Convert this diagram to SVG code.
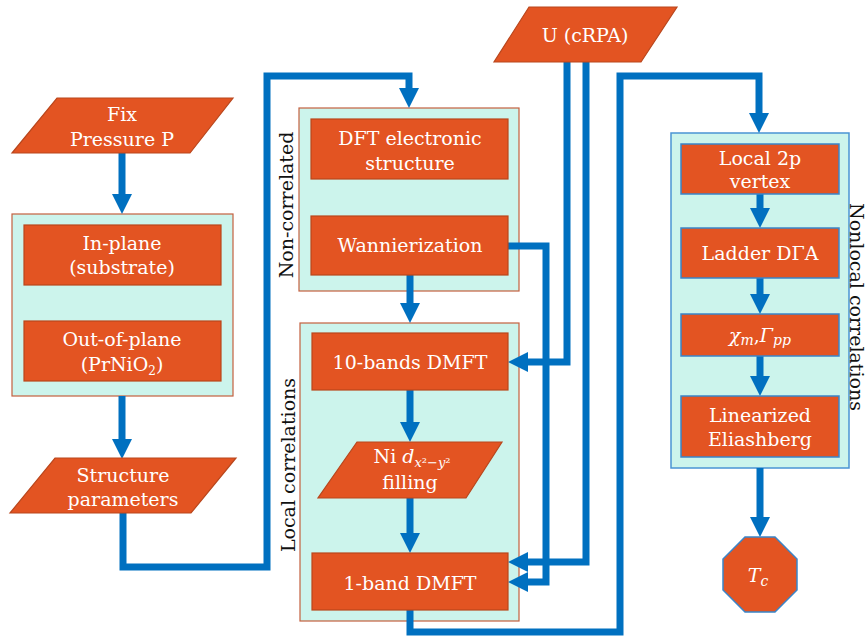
<svg xmlns="http://www.w3.org/2000/svg" width="867" height="637" viewBox="0 0 867 637">
  <style>
    .step { fill: #E35422; stroke: #B9461C; stroke-width: 1.2; }
    .stepB { fill: #E35422; stroke: #3A85C8; stroke-width: 1.5; }
    .grpO { fill: #CCF4EC; stroke: #C4603F; stroke-width: 1.2; }
    .grpB { fill: #CCF4EC; stroke: #4A94D4; stroke-width: 1.5; }
    .t { font-family: "DejaVu Serif", "Liberation Serif", serif; font-size: 19px; fill: #ffffff; text-anchor: middle; }
    .m { font-family: "DejaVu Serif", "Liberation Serif", serif; font-style: italic; }
    .lbl { font-family: "DejaVu Serif", "Liberation Serif", serif; font-size: 19px; fill: #111111; text-anchor: middle; }
    .wire { fill: none; stroke: #0070C0; stroke-width: 7; stroke-linejoin: miter; }
  </style>
  <defs>
    <marker id="head" viewBox="0 0 20 20" refX="0" refY="10" markerWidth="20" markerHeight="20" markerUnits="userSpaceOnUse" orient="auto">
      <path d="M0,0 L20,10 L0,20 z" fill="#0070C0"/>
    </marker>
  </defs>

  <!-- group containers -->
  <g id="structure-group">
    <rect class="grpO" x="12" y="214" width="221" height="182"/>
  </g>
  <g id="noncorrelated-group">
    <rect class="grpO" x="299" y="108" width="220" height="183"/>
    <text class="lbl" transform="translate(293,205) rotate(-90)">Non-correlated</text>
  </g>
  <g id="local-group">
    <rect class="grpO" x="300" y="323" width="219" height="298"/>
    <text class="lbl" transform="translate(295,465) rotate(-90)">Local correlations</text>
  </g>
  <g id="nonlocal-group">
    <rect class="grpB" x="671" y="133" width="178" height="335"/>
    <text class="lbl" transform="translate(850,307) rotate(90)">Nonlocal correlations</text>
  </g>

  <!-- connectors -->
  <g id="connectors">
    <path class="wire" d="M122,153 V194" marker-end="url(#head)"/>
    <path class="wire" d="M122,396 V439" marker-end="url(#head)"/>
    <path class="wire" d="M123,513 V567 H267 V76 H409 V88" marker-end="url(#head)"/>
    <path class="wire" d="M410,275 V303" marker-end="url(#head)"/>
    <path class="wire" d="M410,390 V422" marker-end="url(#head)"/>
    <path class="wire" d="M410,498 V533" marker-end="url(#head)"/>
    <path class="wire" d="M508,246 H546 V582 H528" marker-end="url(#head)"/>
    <path class="wire" d="M567,62 V362 H528" marker-end="url(#head)"/>
    <path class="wire" d="M586,62 V562 H528" marker-end="url(#head)"/>
    <path class="wire" d="M410,610 V632 H620 V76 H759 V113" marker-end="url(#head)"/>
    <path class="wire" d="M760,194 V208" marker-end="url(#head)"/>
    <path class="wire" d="M760,278 V294" marker-end="url(#head)"/>
    <path class="wire" d="M760,356 V376" marker-end="url(#head)"/>
    <path class="wire" d="M760,468 V517" marker-end="url(#head)"/>
  </g>

  <!-- nodes -->
  <g id="fix-pressure">
    <polygon class="step" points="57,98 233,98 190,153 12,153"/>
    <text class="t" x="122" y="121">Fix</text>
    <text class="t" x="122" y="146">Pressure P</text>
  </g>
  <g id="in-plane">
    <rect class="step" x="24" y="225" width="197" height="60"/>
    <text class="t" x="122" y="250">In-plane</text>
    <text class="t" x="122" y="274">(substrate)</text>
  </g>
  <g id="out-of-plane">
    <rect class="step" x="24" y="321" width="197" height="60"/>
    <text class="t" x="122" y="346">Out-of-plane</text>
    <text class="t" x="122" y="371">(PrNiO<tspan font-size="12" dy="4">2</tspan><tspan dy="-4">)</tspan></text>
  </g>
  <g id="structure-parameters">
    <polygon class="step" points="55,458 236,458 191,513 10,513"/>
    <text class="t" x="123" y="482">Structure</text>
    <text class="t" x="123" y="506">parameters</text>
  </g>
  <g id="u-crpa">
    <polygon class="step" points="529,7 677,7 641,62 494,62"/>
    <text class="t" x="585" y="42">U (cRPA)</text>
  </g>
  <g id="dft">
    <rect class="step" x="311" y="119" width="197" height="60"/>
    <text class="t" x="410" y="145">DFT electronic</text>
    <text class="t" x="410" y="170">structure</text>
  </g>
  <g id="wannierization">
    <rect class="step" x="311" y="216" width="197" height="59"/>
    <text class="t" x="410" y="252">Wannierization</text>
  </g>
  <g id="dmft-10">
    <rect class="step" x="312" y="333" width="196" height="57"/>
    <text class="t" x="410" y="369">10-bands DMFT</text>
  </g>
  <g id="ni-filling">
    <polygon class="step" points="357,442 502,442 466,498 318,498"/>
    <text class="t" x="412" y="463">Ni <tspan class="m">d</tspan><tspan font-size="13" dy="4"><tspan class="m">x</tspan>²−<tspan class="m">y</tspan>²</tspan></text>
    <text class="t" x="410" y="489">filling</text>
  </g>
  <g id="dmft-1">
    <rect class="step" x="312" y="553" width="196" height="57"/>
    <text class="t" x="410" y="590">1-band DMFT</text>
  </g>
  <g id="local-vertex">
    <rect class="stepB" x="681" y="144" width="158" height="50"/>
    <text class="t" x="760" y="165">Local 2p</text>
    <text class="t" x="760" y="188">vertex</text>
  </g>
  <g id="ladder">
    <rect class="stepB" x="681" y="228" width="158" height="50"/>
    <text class="t" x="760" y="260">Ladder DΓA</text>
  </g>
  <g id="chi-gamma">
    <rect class="stepB" x="681" y="314" width="158" height="42"/>
    <text class="t" x="760" y="342"><tspan class="m">χ</tspan><tspan class="m" font-size="14" dy="3">m</tspan><tspan dy="-3">,</tspan><tspan class="m">Γ</tspan><tspan class="m" font-size="14" dy="3">pp</tspan></text>
  </g>
  <g id="eliashberg">
    <rect class="stepB" x="681" y="396" width="158" height="61"/>
    <text class="t" x="760" y="422">Linearized</text>
    <text class="t" x="760" y="446">Eliashberg</text>
  </g>
  <g id="tc">
    <polygon class="stepB" points="745,537 775,537 797,559 797,590 775,612 745,612 723,590 723,559"/>
    <text class="t" x="758" y="582"><tspan class="m">T</tspan><tspan class="m" font-size="14" dy="4">c</tspan></text>
  </g>
</svg>
